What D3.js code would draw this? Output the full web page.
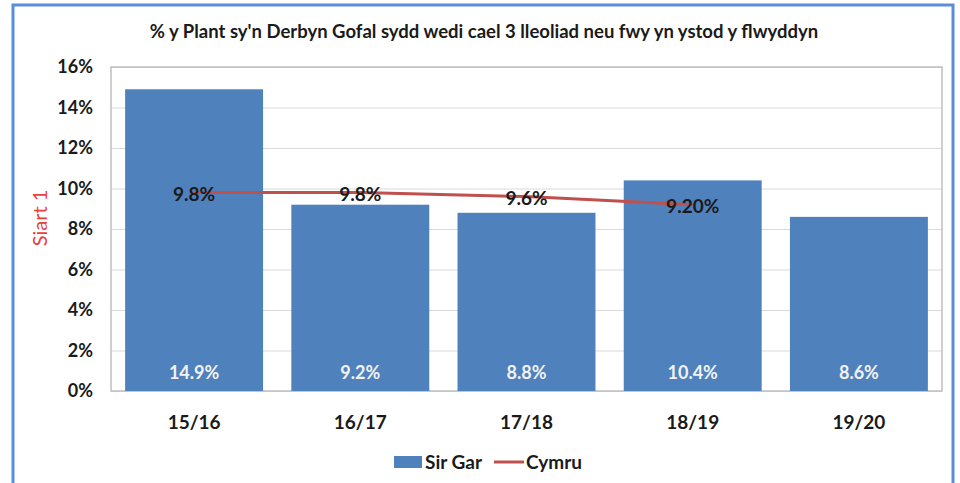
<!DOCTYPE html>
<html lang="cy">
<head>
  <meta charset="UTF-8">
  <title>Siart 1</title>
  <script src="https://d3js.org/d3.v7.min.js"></script>
  <style>
    body { margin: 0; background: #fff; font-family: Lato, 'Open Sans', sans-serif; }
    svg text { font-family: Lato, 'Open Sans', sans-serif; }
    .grid line { stroke: #d9d9d9; }
    .grid path { display: none; }
  </style>
</head>
<body>
  <div id="chart"></div>
  <script>
    const years = ["15/16", "16/17", "17/18", "18/19", "19/20"];
    const sirGar = [14.9, 9.2, 8.8, 10.4, 8.6];
    const cymru = [9.8, 9.8, 9.6, 9.2, null];
    const cymruLabels = ["9.8%", "9.8%", "9.6%", "9.20%"];
    const yTicks = [0, 2, 4, 6, 8, 10, 12, 14, 16];
    const title = "% y Plant sy'n Derbyn Gofal sydd wedi cael 3 lleoliad neu fwy yn ystod y flwyddyn";

    const width = 960, height = 483;
    const margin = { top: 67, right: 18, bottom: 92, left: 111 };
    const barColor = "#4f81bd";
    const lineColor = "#c0504d";

    const svg = d3.select("#chart").append("svg")
      .attr("width", width)
      .attr("height", height);

    // outer frame
    svg.append("rect")
      .attr("x", 13).attr("y", 5)
      .attr("width", 940).attr("height", 490)
      .attr("fill", "#fff")
      .attr("stroke", "#5b8ed8")
      .attr("stroke-width", 3);

    const x = d3.scaleBand()
      .domain(years)
      .range([margin.left, width - margin.right])
      .paddingInner(0.17)
      .paddingOuter(0.085);

    const y = d3.scaleLinear()
      .domain([0, 16])
      .range([height - margin.bottom, margin.top]);

    // gridlines
    svg.append("g")
      .attr("class", "grid")
      .attr("transform", `translate(${margin.left},0)`)
      .call(d3.axisLeft(y).tickValues(yTicks).tickSize(-(width - margin.right - margin.left)).tickFormat(""));

    // plot border
    svg.append("rect")
      .attr("x", margin.left).attr("y", y(16))
      .attr("width", width - margin.right - margin.left)
      .attr("height", y(0) - y(16))
      .attr("fill", "none")
      .attr("stroke", "#bfbfbf")
      .attr("stroke-width", 1.5);

    // y labels
    svg.append("g")
      .selectAll("text")
      .data(yTicks)
      .join("text")
      .attr("x", 93)
      .attr("y", d => y(d))
      .attr("dy", "0.35em")
      .attr("text-anchor", "end")
      .attr("font-size", 18)
      .attr("font-weight", "bold")
      .attr("fill", "#1a1a1a")
      .text(d => d + "%");

    // bars
    svg.append("g")
      .selectAll("rect")
      .data(sirGar)
      .join("rect")
      .attr("x", (d, i) => x(years[i]))
      .attr("y", d => y(d))
      .attr("width", x.bandwidth())
      .attr("height", d => y(0) - y(d))
      .attr("fill", barColor);

    svg.append("g")
      .selectAll("text")
      .data(sirGar)
      .join("text")
      .attr("x", (d, i) => x(years[i]) + x.bandwidth() / 2)
      .attr("y", y(0) - 12)
      .attr("text-anchor", "middle")
      .attr("font-size", 18)
      .attr("font-weight", "bold")
      .attr("fill", "#f2f2f2")
      .text(d => d.toFixed(1) + "%");

    // Cymru line
    const pts = cymru.map((v, i) => ({ year: years[i], v, label: cymruLabels[i] })).filter(d => d.v != null);
    const line = d3.line()
      .x(d => x(d.year) + x.bandwidth() / 2)
      .y(d => y(d.v));

    svg.append("path")
      .datum(pts)
      .attr("d", line)
      .attr("fill", "none")
      .attr("stroke", lineColor)
      .attr("stroke-width", 3);

    svg.append("g")
      .selectAll("text")
      .data(pts)
      .join("text")
      .attr("x", d => x(d.year) + x.bandwidth() / 2)
      .attr("y", d => y(d.v) + 8)
      .attr("text-anchor", "middle")
      .attr("font-size", 19)
      .attr("font-weight", "bold")
      .attr("fill", "#1a1a1a")
      .text(d => d.label);

    // x labels
    svg.append("g")
      .selectAll("text")
      .data(years)
      .join("text")
      .attr("x", d => x(d) + x.bandwidth() / 2)
      .attr("y", 429)
      .attr("text-anchor", "middle")
      .attr("font-size", 19)
      .attr("font-weight", "bold")
      .attr("fill", "#1a1a1a")
      .text(d => d);

    // title
    svg.append("text")
      .attr("x", 484)
      .attr("y", 38)
      .attr("text-anchor", "middle")
      .attr("font-size", 18.5)
      .attr("font-weight", "bold")
      .attr("fill", "#1a1a1a")
      .text(title);

    // y-axis title
    svg.append("text")
      .attr("transform", "translate(47,218) rotate(-90)")
      .attr("text-anchor", "middle")
      .attr("font-size", 20)
      .attr("fill", "#e8413c")
      .text("Siart 1");

    // legend
    const lg = svg.append("g").attr("transform", "translate(394,462)");
    lg.append("rect").attr("x", 0).attr("y", -6).attr("width", 28).attr("height", 12).attr("fill", barColor);
    lg.append("text").attr("x", 31).attr("y", 0).attr("dy", "0.35em")
      .attr("font-size", 19).attr("font-weight", "bold").attr("fill", "#1a1a1a").text("Sir Gar");
    lg.append("line").attr("x1", 100).attr("x2", 130).attr("y1", 0).attr("y2", 0)
      .attr("stroke", lineColor).attr("stroke-width", 3);
    lg.append("text").attr("x", 132).attr("y", 0).attr("dy", "0.35em")
      .attr("font-size", 19).attr("font-weight", "bold").attr("fill", "#1a1a1a").text("Cymru");
  </script>
</body>
</html>
